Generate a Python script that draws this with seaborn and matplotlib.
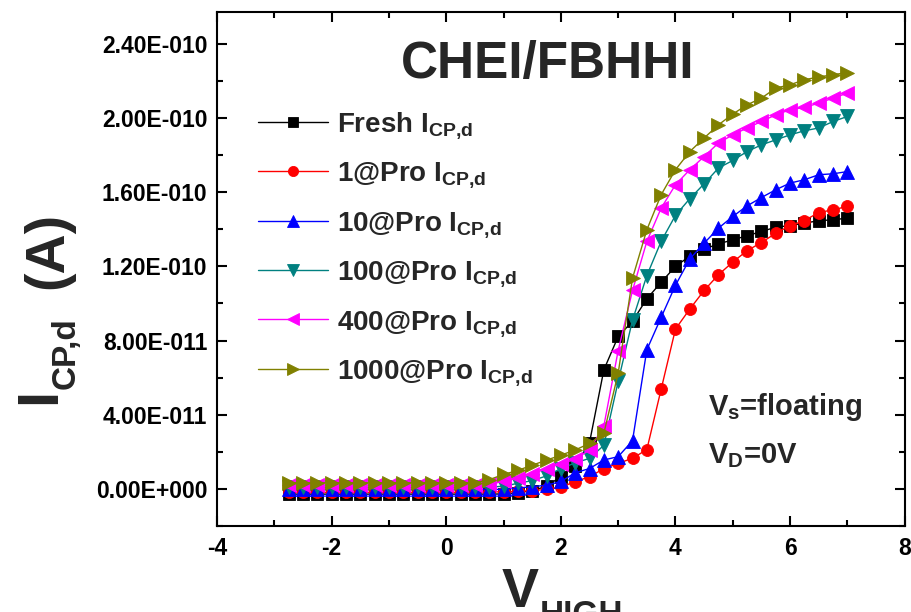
import matplotlib
matplotlib.use("Agg")
import matplotlib.pyplot as plt
import numpy as np
import pandas as pd
import seaborn as sns
from matplotlib.font_manager import FontProperties
from matplotlib.ticker import MultipleLocator

# Gate high-level voltage sweep (V)
v_high = [-2.75, -2.5, -2.25, -2.0, -1.75, -1.5, -1.25, -1.0, -0.75, -0.5,
          -0.25, 0.0, 0.25, 0.5, 0.75, 1.0, 1.25, 1.5, 1.75, 2.0,
          2.25, 2.5, 2.75, 3.0, 3.25, 3.5, 3.75, 4.0, 4.25, 4.5,
          4.75, 5.0, 5.25, 5.5, 5.75, 6.0, 6.25, 6.5, 6.75, 7.0]

# Drain-side charge pumping current, in pA
fresh = [-2.8, -2.8, -2.8, -2.8, -2.8, -2.8, -2.8, -2.8, -2.8, -2.8,
         -2.8, -2.8, -2.8, -2.8, -2.8, -2.7, -2.0, -1.0, 1.5, 6.6,
         12.5, 25.0, 64.2, 82.2, 90.4, 102.5, 111.4, 120.0, 125.5, 129.3,
         132.1, 134.3, 136.5, 138.8, 141.1, 142.0, 143.3, 144.6, 145.1, 146.0]
pro_1 = [-1.8, -1.8, -1.8, -1.8, -1.8, -1.8, -1.8, -1.8, -1.8, -1.8,
         -1.8, -1.8, -1.8, -1.8, -1.7, -1.5, -1.3, -0.9, -0.3, 1.0,
         3.9, 6.6, 10.9, 13.8, 16.5, 21.2, 53.8, 86.2, 97.0, 107.0,
         115.5, 122.3, 128.5, 132.8, 137.9, 141.9, 144.7, 149.0, 150.5, 152.3]
pro_10 = [-0.3, -0.3, -0.3, -0.3, -0.3, -0.3, -0.3, -0.3, -0.3, -0.3,
          -0.3, -0.3, -0.3, -0.3, -0.3, -0.2, 0.5, 1.2, 2.0, 4.0,
          8.7, 11.0, 15.6, 17.4, 26.0, 75.0, 92.5, 109.8, 124.0, 132.5,
          140.6, 146.9, 152.6, 157.1, 161.3, 164.9, 166.7, 169.4, 169.9, 171.1]
pro_100 = [0.8, 0.8, 0.8, 0.8, 0.8, 0.8, 0.8, 0.8, 0.8, 0.8,
           0.8, 0.8, 0.8, 0.8, 0.9, 1.5, 3.0, 4.5, 7.0, 11.0,
           14.0, 16.5, 23.5, 58.0, 91.0, 115.0, 133.5, 147.5, 156.5, 164.5,
           173.0, 177.1, 181.9, 185.5, 188.2, 190.9, 193.1, 194.6, 198.1, 200.8]
pro_400 = [2.0, 2.0, 2.0, 2.0, 2.0, 2.0, 2.0, 2.0, 2.0, 2.0,
           2.0, 2.0, 2.0, 2.0, 2.5, 4.0, 5.8, 8.0, 11.0, 13.5,
           16.0, 21.0, 34.0, 74.6, 107.0, 133.4, 151.4, 164.0, 172.1, 179.2,
           186.5, 190.9, 194.6, 198.1, 201.7, 204.4, 205.7, 208.0, 210.7, 213.4]
pro_1000 = [3.3, 3.3, 3.3, 3.3, 3.3, 3.3, 3.3, 3.3, 3.3, 3.3,
            3.3, 3.3, 3.3, 3.3, 5.0, 7.8, 10.0, 12.8, 15.5, 18.2,
            21.0, 24.5, 30.0, 62.4, 113.6, 139.7, 158.6, 172.1, 181.9, 189.2,
            196.3, 202.1, 207.1, 210.7, 216.1, 217.9, 220.6, 222.1, 223.3, 224.5]

series_names = ["Fresh", "1@Pro", "10@Pro", "100@Pro", "400@Pro", "1000@Pro"]
series_values = [fresh, pro_1, pro_10, pro_100, pro_400, pro_1000]
legend_labels = [r"Fresh $\mathbf{I_{CP{,}d}}$",
                 r"1@Pro $\mathbf{I_{CP{,}d}}$",
                 r"10@Pro $\mathbf{I_{CP{,}d}}$",
                 r"100@Pro $\mathbf{I_{CP{,}d}}$",
                 r"400@Pro $\mathbf{I_{CP{,}d}}$",
                 r"1000@Pro $\mathbf{I_{CP{,}d}}$"]
colors = ["#000000", "#FF0000", "#0000FF", "#008080", "#FF00FF", "#808000"]
marker_shapes = ["s", "o", "^", "v", "<", ">"]
marker_sizes = [8.0, 8.6, 9.4, 9.4, 9.4, 9.4]

xtick_vals = [-4, -2, 0, 2, 4, 6, 8]
xtick_labels = ["-4", "-2", "0", "2", "4", "6", "8"]
ytick_vals = [0.0, 4e-11, 8e-11, 1.2e-10, 1.6e-10, 2.0e-10, 2.4e-10]
ytick_labels = ["0.00E+000", "4.00E-011", "8.00E-011", "1.20E-010",
                "1.60E-010", "2.00E-010", "2.40E-010"]

PA = 1e-12

frames = []
for name, vals in zip(series_names, series_values):
    frames.append(pd.DataFrame({"V": v_high,
                                "I": np.asarray(vals) * PA,
                                "series": name}))
df = pd.concat(frames, ignore_index=True)

sns.set_style("ticks")
plt.rcParams.update({
    "font.family": ["Liberation Sans", "DejaVu Sans"],
    "font.weight": "bold",
    "mathtext.fontset": "custom",
    "mathtext.rm": "Liberation Sans:bold",
    "mathtext.bf": "Liberation Sans:bold",
    "mathtext.it": "Liberation Sans:bold",
    "axes.unicode_minus": False,
    "axes.linewidth": 1.5,
    "axes.edgecolor": "black",
})

W, H = 912, 612
fig = plt.figure(figsize=(W / 100, H / 100), dpi=100)
ax = fig.add_axes([0.238, 0.1405, 0.754, 0.8395])

sns.lineplot(data=df, x="V", y="I", hue="series", style="series",
             hue_order=series_names, style_order=series_names,
             palette=dict(zip(series_names, colors)),
             markers=dict(zip(series_names, marker_shapes)),
             dashes=False, estimator=None, sort=False, legend=False,
             linewidth=1.0, markeredgewidth=0.6, ax=ax)
for line, c, ms in zip(ax.lines, colors, marker_sizes):
    line.set_markeredgecolor(c)
    line.set_markersize(ms)

ax.set_xlim(-4, 8)
ax.set_ylim(-2e-11, 2.57e-10)
ax.set_xticks(xtick_vals, labels=xtick_labels)
ax.set_yticks(ytick_vals, labels=ytick_labels)
ax.xaxis.set_minor_locator(MultipleLocator(1))
ax.yaxis.set_minor_locator(MultipleLocator(2e-11))
ax.tick_params(which="both", direction="in", top=True, right=True,
               width=1.5, colors="black")
ax.tick_params(which="major", length=7, labelsize=16.5)
ax.tick_params(which="minor", length=4)
ax.tick_params(axis="x", which="major", pad=8)
ax.tick_params(axis="y", which="major", pad=7)
for lab in ax.get_xticklabels() + ax.get_yticklabels():
    lab.set_fontweight("bold")
ax.set_xlabel("")
ax.set_ylabel("")


def px(x, y):
    """Pixel position (from the top-left corner) to figure fraction."""
    return x / W, 1 - y / H


# Axis titles: large symbol with a smaller subscript, drawn in pieces
rot = dict(rotation=90, rotation_mode="anchor", ha="left", va="baseline",
           fontweight="bold")
fig.text(*px(55, 404), "I", fontsize=42, **rot)
fig.text(*px(75, 389), "CP,d", fontsize=24, **rot)
fig.text(*px(62, 289), "(A)", fontsize=40, **rot)

fig.text(*px(502, 607), "V", fontsize=40, fontweight="bold",
         ha="left", va="baseline")
fig.text(*px(540, 624), "HIGH", fontsize=24, fontweight="bold",
         ha="left", va="baseline")

ax.text(0.481, 0.8716, "CHEI/FBHHI", transform=ax.transAxes,
        ha="center", va="baseline", fontsize=37, fontweight="bold")
ax.text(0.714, 0.216, r"$\mathbf{V_s}$=floating", transform=ax.transAxes,
        ha="left", va="baseline", fontsize=21, fontweight="bold")
ax.text(0.714, 0.1226, r"$\mathbf{V_D}$=0V", transform=ax.transAxes,
        ha="left", va="baseline", fontsize=21, fontweight="bold")

ax.legend(handles=list(ax.lines[:6]), labels=legend_labels,
          loc="upper left", bbox_to_anchor=(0.06, 0.810),
          frameon=False, handlelength=2.5, handletextpad=0.35,
          labelspacing=0.7, borderpad=0, borderaxespad=0,
          markerscale=0.85,
          prop=FontProperties(family="Liberation Sans", weight="bold", size=20))

fig.savefig("out.png", dpi=100)
